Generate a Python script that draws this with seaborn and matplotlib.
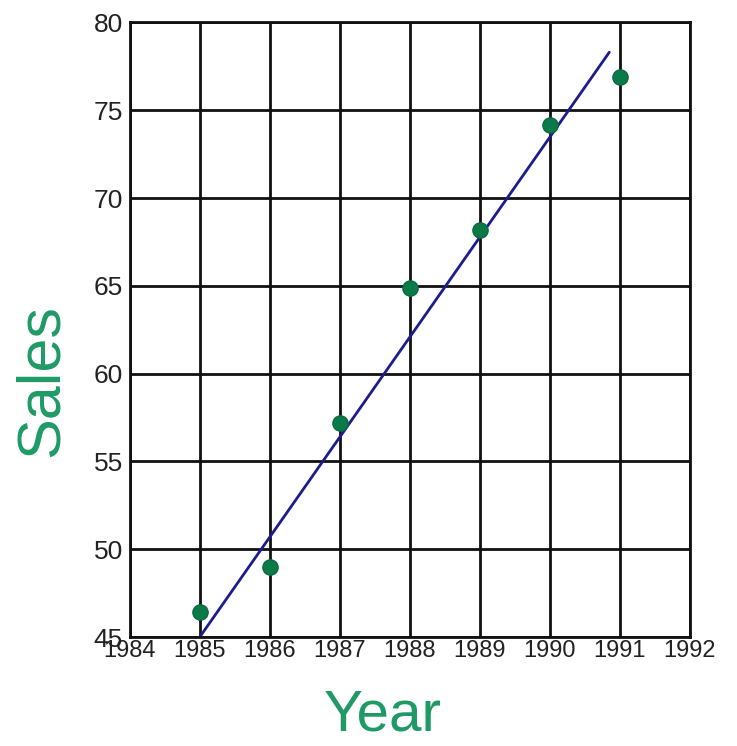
import pandas as pd
import seaborn as sns
import matplotlib.pyplot as plt

# Data
years = [1985, 1986, 1987, 1988, 1989, 1990, 1991]
sales = [46.4, 49.0, 57.2, 64.85, 68.2, 74.15, 76.9]

# hand-drawn trend line endpoints
trend_x = [1985.0, 1990.85]
trend_y = [45.0, 78.3]

x_ticks = list(range(1984, 1993))
y_ticks = list(range(45, 81, 5))

df = pd.DataFrame({'Year': years, 'Sales': sales})
trend = pd.DataFrame({'Year': trend_x, 'Sales': trend_y})

sns.set_style("white")
plt.rcParams['font.family'] = ['Liberation Sans', 'DejaVu Sans']

fig = plt.figure(figsize=(7.37, 7.46), dpi=100)
ax = fig.add_axes([0.176, 0.146, 0.760, 0.824])

sns.lineplot(data=trend, x='Year', y='Sales', color='#1c1c8c', linewidth=2, ax=ax)
sns.scatterplot(data=df, x='Year', y='Sales', color='#0a7a48', s=120, edgecolor='#0a6a40',
                linewidth=1, zorder=5, ax=ax)

ax.set_xlim(1984, 1992)
ax.set_ylim(45, 80)
ax.set_xticks(x_ticks)
ax.set_yticks(y_ticks)
ax.tick_params(axis='x', length=0, labelsize=17, pad=2, labelcolor='#222222')
ax.tick_params(axis='y', length=0, labelsize=19, pad=5, labelcolor='#222222')
ax.grid(True, color='#111111', linewidth=2)
ax.set_axisbelow(True)
for s in ax.spines.values():
    s.set_color('#111111')
    s.set_linewidth(2)

ax.set_xlabel('Year', fontsize=42, color='#1f9a66')
ax.set_ylabel('Sales', fontsize=44, color='#1f9a66')
ax.xaxis.set_label_coords(0.452, -0.127)
ax.yaxis.set_label_coords(-0.157, 0.418)
ax.xaxis.label.set_va('center')
ax.yaxis.label.set_va('center')

plt.savefig('out.png', dpi=100)
